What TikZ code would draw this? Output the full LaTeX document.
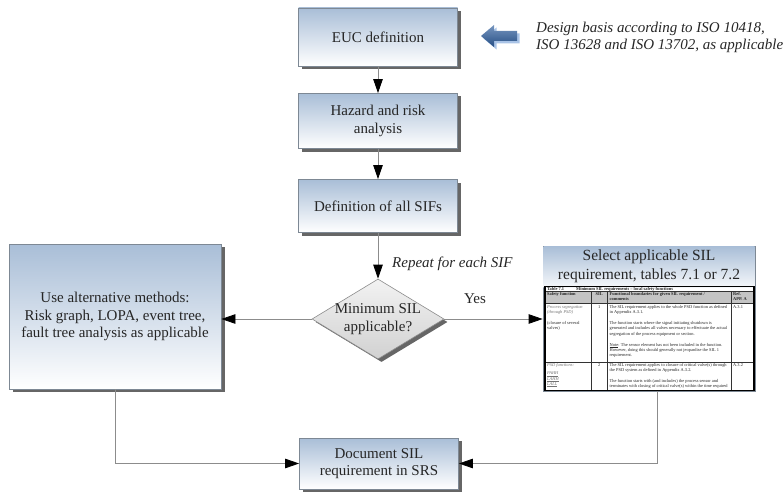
\documentclass[tikz,border=0pt]{standalone}
\usepackage{fontspec}
\setmainfont{Liberation Serif}
\usetikzlibrary{arrows.meta,shapes.geometric,shadows}
\definecolor{boxtop}{HTML}{A9BED7}
\definecolor{boxedge}{HTML}{7D8894}
\definecolor{linkgray}{HTML}{8C8C8C}
\definecolor{arrowblue}{HTML}{2C5C9C}
\definecolor{arrowglow}{HTML}{A9C3E6}
\definecolor{inkgray}{HTML}{262626}
\definecolor{hdrgray}{HTML}{C4C4C4}
\newcommand{\tabfont}{\fontsize{4.4}{5.2}\selectfont}
\begin{document}
\begin{tikzpicture}[x=1pt,y=-1pt,
  boxshadow/.style={drop shadow={shadow xshift=3.5pt,shadow yshift=-3pt,fill=black!60,opacity=1}},
  stepbox/.style={draw=boxedge,line width=0.8pt,top color=boxtop,bottom color=white,
    align=center,inner sep=2pt,text=inkgray,font=\fontsize{15}{17.6}\selectfont,boxshadow},
  decbox/.style={diamond,draw=black!45,line width=0.6pt,top color=black!5,bottom color=black!18,
    minimum width=132pt,minimum height=80pt,inner sep=0pt,boxshadow},
  link/.style={draw=linkgray,line width=0.8pt},
  tip/.style={-{Triangle[length=14pt,width=9.5pt,color=black]}},
  remark/.style={font=\fontsize{15}{17}\selectfont\itshape,text=inkgray,align=left,inner sep=0pt},
  cell/.style={anchor=north west,inner sep=0pt,align=left,font=\tabfont,text=black!85},
  cellhead/.style={cell,font=\tabfont\bfseries},
  cellnote/.style={cell,font=\tabfont\itshape,text=black!55},
  tabrule/.style={draw=black!80,line width=0.45pt},
  tabframe/.style={draw=black,line width=1.1pt},
]
\useasboundingbox (0,0) rectangle (784,492);

% main chain of steps
\node[stepbox,minimum width=159pt,minimum height=58pt] (euc) at (378,37) {EUC definition};
\node[stepbox,minimum width=159pt,minimum height=55pt] (haz) at (378,121) {Hazard and risk\\analysis};
\node[stepbox,minimum width=159pt,minimum height=53pt] (sifs) at (378,206) {Definition of all SIFs};
\node[decbox] (dec) at (378,319) {};
\node[font=\fontsize{15}{18}\selectfont,align=center,text=inkgray,inner sep=0pt] (dectext) at (dec.center) {Minimum SIL\\applicable?};

% alternative methods (left branch)
\node[stepbox,minimum width=212pt,minimum height=145pt] (alt) at (115,316.5)
  {Use alternative methods:\\Risk graph, LOPA, event tree,\\fault tree analysis as applicable};

% final step
\node[stepbox,minimum width=159pt,minimum height=51pt] (doc) at (379,463.5) {Document SIL\\requirement in SRS};

% table selection (right branch)
\node[draw=boxedge,line width=0.8pt,fill=white,minimum width=212pt,minimum height=145pt,inner sep=0pt] (sel) at (649,318.5) {};
\shade[top color=boxtop,bottom color=boxtop!12] (543.5,246.5) rectangle (754.5,287);
\node[font=\fontsize{15.5}{19}\selectfont,align=center,text=inkgray,inner sep=0pt] (seltext) at (649,266.5)
  {Select applicable SIL\\requirement, tables 7.1 or 7.2};

% excerpt of table 7.1
\begin{scope}
  \clip (545,286.5) rectangle (754,390.5);
  \fill[hdrgray] (545,291) rectangle (754,303);
  \draw[tabrule] (545,291) -- (754,291);
  \draw[tabrule] (545,303) -- (754,303);
  \draw[tabrule] (545,362) -- (754,362);
  \draw[tabrule] (591,291) -- (591,390.5);
  \draw[tabrule] (607.5,291) -- (607.5,390.5);
  \draw[tabrule] (731.5,291) -- (731.5,390.5);
  \node[cellhead] (ttl) at (547,287.1) {Table 7.1\hspace{12pt}Minimum SIL requirements -- local safety functions};
  \node[cellhead] (hfun) at (547,292) {Safety function};
  \node[cellhead,anchor=north] (hsil) at (599.25,292) {SIL};
  \node[cellhead] (hbnd) at (609.5,292) {Functional boundaries for given SIL requirement /\\comments};
  \node[cellhead] (href) at (733,292) {Ref.\\APP. A};
  \node[cellnote] (f1a) at (547,305.2) {Process segregation\\(through PSD)};
  \node[cell] (f1b) at (547,321.2) {(closure of several\\valves)};
  \node[cell,anchor=north] (s1) at (599.25,305.2) {1};
  \node[cell] (b1) at (609.5,305.2) {The SIL requirement applies to the whole PSD function as defined\\
    in Appendix A.3.1.\\[5.8pt]
    The function starts where the signal initiating shutdown is\\
    generated and includes all valves necessary to effectuate the actual\\
    segregation of the process equipment or section.\\[5.8pt]
    \underline{Note}: The sensor element has not been included in the function.\\
    However, doing this should generally not jeopardise the SIL 1\\
    requirement.};
  \node[cell] (r1) at (733,305.2) {A.3.1};
  \node[cellnote] (f2a) at (547,363.2) {PSD functions:};
  \node[cellnote] (f2b) at (547,371.7) {\underline{PAHH}\\\underline{LAHH}\\\underline{LALL}};
  \node[cell,anchor=north] (s2) at (599.25,363.2) {2};
  \node[cell] (b2) at (609.5,363.2) {The SIL requirement applies to closure of critical valve(s) through\\
    the PSD system as defined in Appendix A.3.2.\\[5.8pt]
    The function starts with (and includes) the process sensor and\\
    terminates with closing of critical valve(s) within the time required\\
    to avoid process conditions above design limits.};
  \node[cell] (r2) at (733,363.2) {A.3.2};
\end{scope}
\draw[tabframe] (545,286.5) rectangle (754,390.5);

% design basis remark with pointing arrow
\fill[arrowglow] (483.5,38.5) -- (496.5,27.5) -- (496.5,33.5) -- (519.5,33.5) -- (519.5,43.5)
  -- (496.5,43.5) -- (496.5,49.5) -- cycle;
\shade[top color=arrowblue!65!white,bottom color=arrowblue!85!black]
  (481,36) -- (494,25) -- (494,31) -- (517,31) -- (517,41) -- (494,41) -- (494,47) -- cycle;
\node[remark,anchor=west] (basis) at (536,37)
  {Design basis according to ISO 10418,\\ISO 13628 and ISO 13702, as applicable};

% connectors
\draw[link,tip] (euc) -- (haz);
\draw[link,tip] (haz) -- (sifs);
\draw[link,tip] (sifs) -- (dec);
\draw[link,tip] (dec.west) -- (dec.west -| alt.east);
\draw[link,tip] (dec.east) -- (dec.east -| sel.west);
\draw[link,tip] (alt.south) |- (doc.west);
\coordinate (selfoot) at ([xshift=8pt]sel.south);
\draw[link,tip] (selfoot) |- (doc.east);

% connector labels
\node[remark,anchor=west] (repeat) at (392,264) {Repeat for each SIF};
\node[font=\fontsize{15}{17}\selectfont,text=inkgray,inner sep=0pt] (yes) at (475,299) {Yes};
\end{tikzpicture}
\end{document}
